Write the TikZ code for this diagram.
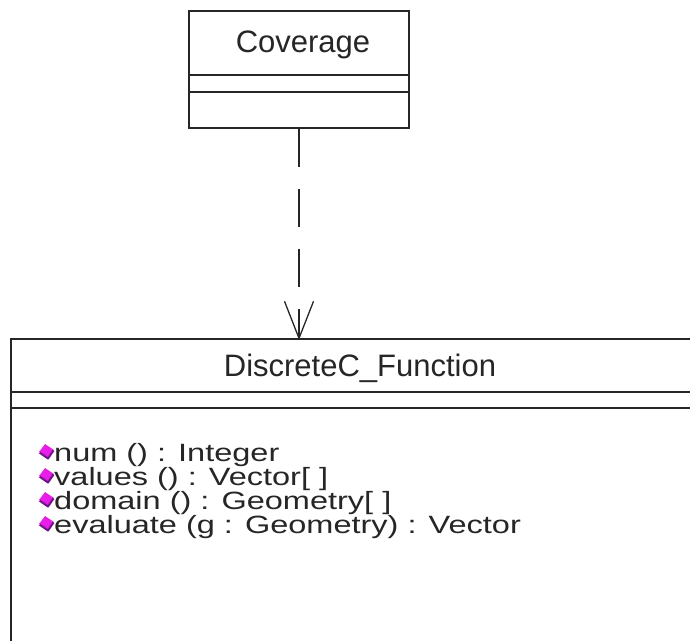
\documentclass[tikz,border=0pt]{standalone}
\usepackage{fontspec}
\usepackage{graphicx}
\setmainfont{Liberation Sans}
\definecolor{opfill}{HTML}{E61EE6}
\definecolor{opedge}{HTML}{70148A}
\newcommand{\wideop}[1]{\scalebox{1.3}[1]{#1}}
\tikzset{
  umlline/.style={line width=1.4pt, draw=black!85},
  classbox/.style={umlline, fill=white, inner sep=0pt},
  titletext/.style={inner sep=0pt, anchor=base, font=\fontsize{31}{36}\selectfont, text=black!85},
  optext/.style={inner sep=0pt, anchor=base west, font=\fontsize{25}{27}\selectfont, text=black!85},
  deplink/.style={line width=1.3pt, draw=black!85, dash pattern=on 38pt off 22pt},
  veearm/.style={line width=1.3pt, draw=black!85},
  opicon/.pic={
    \fill[opfill] (0,0) -- (6,-8) -- (15,-2) -- (9,7) -- cycle;
    \draw[opedge, line width=2pt, line join=round] (0.7,0.7) -- (9,6.5) -- (14.5,-1.5);
  }
}
\begin{document}
\begin{tikzpicture}[x=1pt, y=-1pt]
\useasboundingbox (0,0) rectangle (690,640);
\fill[white] (0,0) rectangle (690,640);
\clip (0,0) rectangle (690,640);

% Coverage class
\node[classbox, minimum width=220pt, minimum height=117pt] (cov) at (299,69.5) {};
\draw[umlline] (189,75) -- (409,75);
\draw[umlline] (189,92) -- (409,92);
\node[titletext] (covt) at (303,52) {Coverage};

% DiscreteC_Function class
\node[classbox, minimum width=698pt, minimum height=330pt] (dcf) at (360,504) {};
\draw[umlline] (11,392) -- (709,392);
\draw[umlline] (11,408) -- (709,408);
\node[titletext] (dcft) at (360,376) {DiscreteC\_Function};

% operations
\pic at (39,452) {opicon};
\node[optext] (op1) at (54,461) {\wideop{num () : Integer}};
\pic at (39,476) {opicon};
\node[optext] (op2) at (54,485) {\wideop{values () : Vector[ ]}};
\pic at (39,500) {opicon};
\node[optext] (op3) at (54,509) {\wideop{domain () : Geometry[ ]}};
\pic at (39,524) {opicon};
\node[optext] (op4) at (54,533) {\wideop{evaluate (g : Geometry) : Vector}};

% dependency
\coordinate (tip) at (cov.south |- dcf.north);
\draw[deplink] (cov.south) -- (tip);
\draw[veearm] (tip) -- ++(-14.5,-37);
\draw[veearm] (tip) -- ++(14.5,-37);
\end{tikzpicture}
\end{document}
